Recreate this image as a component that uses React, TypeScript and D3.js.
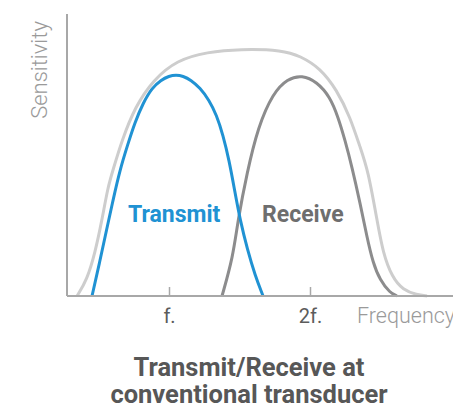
import React, { useRef, useEffect } from "react";
import * as d3 from "d3";

const width = 453;
const height = 409;

// frequency in units of f, sensitivity 0..1
const transmitFreq = [0.454, 0.507, 0.557, 0.603, 0.652, 0.706, 0.759, 0.816, 0.879, 0.943, 1.0, 1.05, 1.099, 1.156, 1.22, 1.284, 1.337, 1.383, 1.426, 1.465, 1.504, 1.557, 1.61, 1.667];
const transmitSens = [0, 0.117, 0.234, 0.34, 0.447, 0.535, 0.617, 0.684, 0.738, 0.766, 0.78, 0.784, 0.78, 0.766, 0.738, 0.695, 0.642, 0.571, 0.482, 0.376, 0.27, 0.163, 0.074, 0];

const receiveFreq = [1.376, 1.454, 1.489, 1.553, 1.631, 1.738, 1.84, 1.943, 2.05, 2.142, 2.199, 2.248, 2.298, 2.355, 2.404, 2.447, 2.496, 2.567, 2.617];
const receiveSens = [0, 0.138, 0.27, 0.436, 0.599, 0.72, 0.77, 0.784, 0.759, 0.706, 0.635, 0.553, 0.457, 0.33, 0.209, 0.117, 0.057, 0.011, 0];

const bandFreq = [0.348, 0.418, 0.475, 0.525, 0.567, 0.603, 0.667, 0.759, 0.887, 1.057, 1.27, 1.504, 1.809, 1.929, 2.071, 2.191, 2.284, 2.355, 2.411, 2.475, 2.518, 2.582, 2.66, 2.759, 2.83];
const bandSens = [0, 0.057, 0.152, 0.27, 0.387, 0.447, 0.553, 0.67, 0.766, 0.837, 0.865, 0.876, 0.872, 0.851, 0.809, 0.73, 0.635, 0.528, 0.447, 0.27, 0.152, 0.067, 0.021, 0.004, 0];

const tickValues = [1, 2];
const tickLabels = ["f.", "2f."];

const left = 67;
const right = 453;
const top = 14;
const bottom = 296;

export default function App() {
  const ref = useRef<SVGSVGElement | null>(null);

  useEffect(() => {
    const svg = d3.select(ref.current);
    svg.selectAll("*").remove();

    const x = d3.scaleLinear().domain([1, 2]).range([169, 310]);
    const y = d3.scaleLinear().domain([0, 1]).range([bottom, top]);

    const line = d3
      .line<[number, number]>()
      .x((d) => x(d[0]))
      .y((d) => y(d[1]))
      .curve(d3.curveBasis);

    const series = [
      { f: bandFreq, s: bandSens, color: "#cdcdcd" },
      { f: receiveFreq, s: receiveSens, color: "#8c8c8d" },
      { f: transmitFreq, s: transmitSens, color: "#2092d3" },
    ];

    series.forEach((d) => {
      svg
        .append("path")
        .attr("d", line(d.f.map((v, i) => [v, d.s[i]] as [number, number]))!)
        .attr("fill", "none")
        .attr("stroke", d.color)
        .attr("stroke-width", 3);
    });

    // axes
    svg.append("line").attr("x1", left).attr("x2", left).attr("y1", top).attr("y2", bottom)
      .attr("stroke", "#a8a8a8").attr("stroke-width", 2);
    svg.append("line").attr("x1", left).attr("x2", right).attr("y1", bottom).attr("y2", bottom)
      .attr("stroke", "#a8a8a8").attr("stroke-width", 2);

    const ax = svg
      .append("g")
      .attr("transform", `translate(0,${bottom})`)
      .call(
        d3.axisBottom(x)
          .tickValues(tickValues)
          .tickSizeInner(-9)
          .tickSizeOuter(0)
          .tickFormat((d, i) => tickLabels[i])
      );
    ax.select(".domain").remove();
    ax.selectAll(".tick line").attr("stroke", "#a8a8a8").attr("stroke-width", 1.5);
    ax.selectAll(".tick text")
      .attr("y", 27)
      .attr("dy", null)
      .attr("font-family", "Roboto, sans-serif")
      .attr("font-size", 20)
      .attr("fill", "#5c5c5c");

    svg.append("text")
      .attr("x", 357).attr("y", 323)
      .attr("font-family", "Roboto, sans-serif")
      .attr("font-weight", 300)
      .attr("font-size", 21.5)
      .attr("fill", "#9a9a9a")
      .text("Frequency");

    svg.append("text")
      .attr("transform", "translate(47,70) rotate(-90)")
      .attr("text-anchor", "middle")
      .attr("font-family", "Roboto, sans-serif")
      .attr("font-weight", 300)
      .attr("font-size", 22)
      .attr("fill", "#9a9a9a")
      .text("Sensitivity");

    // labels
    svg.append("text")
      .attr("x", 128).attr("y", 222)
      .attr("font-family", "Roboto, sans-serif")
      .attr("font-weight", 700)
      .attr("font-size", 23)
      .attr("fill", "#2092d3")
      .text("Transmit");
    svg.append("text")
      .attr("x", 262).attr("y", 222)
      .attr("font-family", "Roboto, sans-serif")
      .attr("font-weight", 700)
      .attr("font-size", 23)
      .attr("fill", "#6e6e6e")
      .text("Receive");

    // title
    svg.append("text")
      .attr("x", 249).attr("y", 376)
      .attr("text-anchor", "middle")
      .attr("font-family", "Roboto, sans-serif")
      .attr("font-weight", 700)
      .attr("font-size", 25.5)
      .attr("fill", "#575757")
      .text("Transmit/Receive at");
    svg.append("text")
      .attr("x", 249).attr("y", 403)
      .attr("text-anchor", "middle")
      .attr("font-family", "Roboto, sans-serif")
      .attr("font-weight", 700)
      .attr("font-size", 25.5)
      .attr("fill", "#575757")
      .text("conventional transducer");
  }, []);

  return (
    <svg
      ref={ref}
      width={width}
      height={height}
      style={{ position: "absolute", left: 0, top: 0, background: "#fff" }}
    />
  );
}
